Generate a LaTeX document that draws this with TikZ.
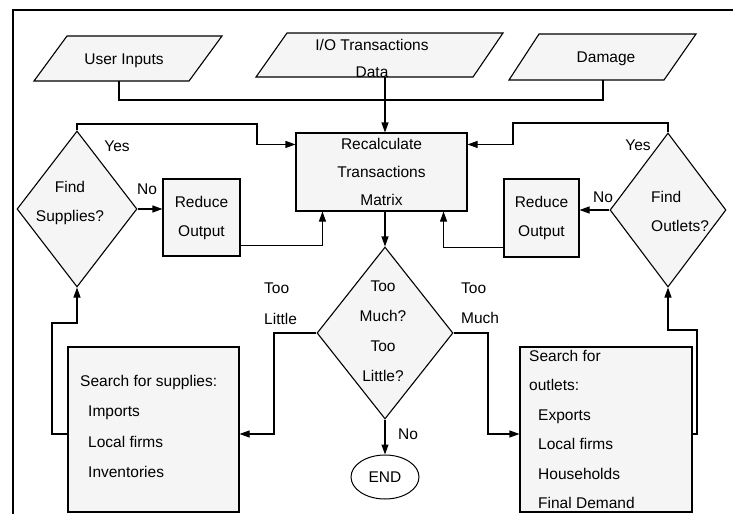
\documentclass[tikz,border=0pt]{standalone}
\usepackage{fontspec}
\setmainfont{Liberation Sans}
\usetikzlibrary{shapes.geometric,arrows.meta,calc}
\begin{document}
\begin{tikzpicture}[x=1pt,y=-1pt,
  shp/.style={draw=black, fill=gray!8, line width=1.1pt},
  txt/.style={font=\fontsize{15.5}{29}\selectfont, inner sep=0pt},
  box/.style={shp, rectangle, inner sep=0pt, txt},
  dia/.style={shp, diamond, inner sep=0pt},
  wire/.style={line width=1.1pt},
  arr/.style={wire, -{Triangle[length=10pt,width=7pt]}}]
\useasboundingbox (0,0) rectangle (733,514);
\fill[white] (0,0) rectangle (733,514);
% frame
\draw[line width=2.2pt] (13,514) -- (13,10);
\draw[line width=1.5pt] (12,10) -- (733,10);

% input parallelograms
\filldraw[shp] (67,36) -- (222,36) -- (189,81) -- (34,81) -- cycle;
\node[txt] (ui) at (124,61) {User Inputs};
\filldraw[shp] (287,33) -- (503,33) -- (473,77) -- (256,77) -- cycle;
\node[txt, align=center] (io) at (372,58) {I/O Transactions\\[-2pt]Data};
\filldraw[shp] (539,34) -- (696,34) -- (664,80) -- (509,80) -- cycle;
\node[txt] (dm) at (606,59) {Damage};

% main boxes
\node[box, minimum width=171pt, minimum height=78pt, align=center, font=\fontsize{15.5}{28}\selectfont] (rc) at (381.5,172) {Recalculate\\Transactions\\Matrix};
\node[box, minimum width=77pt, minimum height=77pt, align=center] (ro1) at (201.5,217.5) {Reduce\\Output};
\node[box, minimum width=75pt, minimum height=78pt, align=center] (ro2) at (541.5,218) {Reduce\\Output};

% diamonds
\node[dia, minimum width=120pt, minimum height=156pt] (fs) at (77,209) {};
\node[txt, align=center] (fst) at (70,203) {Find\\Supplies?};
\node[dia, minimum width=116pt, minimum height=154pt] (fo) at (668,210) {};
\node[txt, align=left, anchor=west] (fot) at (651,211.5) {Find\\Outlets?};
\node[dia, minimum width=136pt, minimum height=172pt] (tm) at (385,333) {};
\node[txt, align=center, font=\fontsize{15.5}{30}\selectfont] (tmt) at (383,331) {Too\\Much?\\Too\\Little?};

% end
\node[draw=black, fill=white, line width=1pt, ellipse, minimum width=68pt, minimum height=44pt, inner sep=0pt, txt] (end) at (385,477) {END};

% search boxes
\node[box, minimum width=171pt, minimum height=165pt] (ss) at (153.5,429.5) {};
\node[txt, align=left, anchor=west, font=\fontsize{15.5}{30.3}\selectfont] (sst) at (80,426.5) {Search for supplies:\\\hspace{8pt}Imports\\\hspace{8pt}Local firms\\\hspace{8pt}Inventories};
\node[box, minimum width=172pt, minimum height=165pt] (so) at (606,429.5) {};
\node[txt, align=left, anchor=west, font=\fontsize{15.5}{29.4}\selectfont] (sot) at (529,429.5) {Search for\\outlets:\\\hspace{9pt}Exports\\\hspace{9pt}Local firms\\\hspace{9pt}Households\\\hspace{9pt}Final Demand};

% connector labels
\node[txt] (ly1) at (117,146) {Yes};
\node[txt] (ln1) at (147,189) {No};
\node[txt] (ly2) at (638,145) {Yes};
\node[txt] (ln2) at (603,197) {No};
\node[txt, align=left, anchor=west, font=\fontsize{15.5}{31}\selectfont] (ltl) at (264,304) {Too\\Little};
\node[txt, align=left, anchor=west, font=\fontsize{15.5}{30}\selectfont] (ltm) at (461,303) {Too\\Much};
\node[txt] (ln3) at (408,434) {No};

% helper coordinates
\coordinate (j) at (385,100);
\coordinate (uiout) at (119,81);
\coordinate (dmout) at (603,80);
\coordinate (ioout) at (385,77);
\coordinate (ysa) at (257,124);
\coordinate (yoa) at (513,123);
\coordinate (tla) at (274,434);
\coordinate (sfa) at (52,323);
\coordinate (tma) at (488,434);
\coordinate (soa) at (697,330);

% connectors
\draw[wire] (uiout) |- (j);
\draw[wire] (dmout) |- (j);
\draw[arr] (ioout) -- (ioout |- rc.north);
\draw[arr] (fs.north) |- (ysa) |- ($(rc.north west)+(0,12)$);
\draw[arr] (fo.north) |- (yoa) |- ($(rc.north east)+(0,12)$);
\draw[arr] (fs.east) -- (fs.east -| ro1.west);
\draw[arr] (fo.west) -- (fo.west -| ro2.east);
\draw[arr] ($(ro1.south east)+(0,-11)$) -| ($(rc.south west)+(27,0)$);
\draw[arr] ($(ro2.south west)+(0,-10)$) -| ($(rc.south east)+(-24,0)$);
\draw[arr] (rc.south -| tm.north) -- (tm.north);
\draw[arr] (tm.west) -| (tla) -- (tla -| ss.east);
\draw[arr] (ss.west |- tla) -| (sfa) -| (fs.south);
\draw[arr] (tm.east) -| (tma) -- (tma -| so.west);
\draw[arr] (so.east |- tma) -| (soa) -| (fo.south);
\draw[arr] (tm.south) -- (end.north);
\end{tikzpicture}
\end{document}
